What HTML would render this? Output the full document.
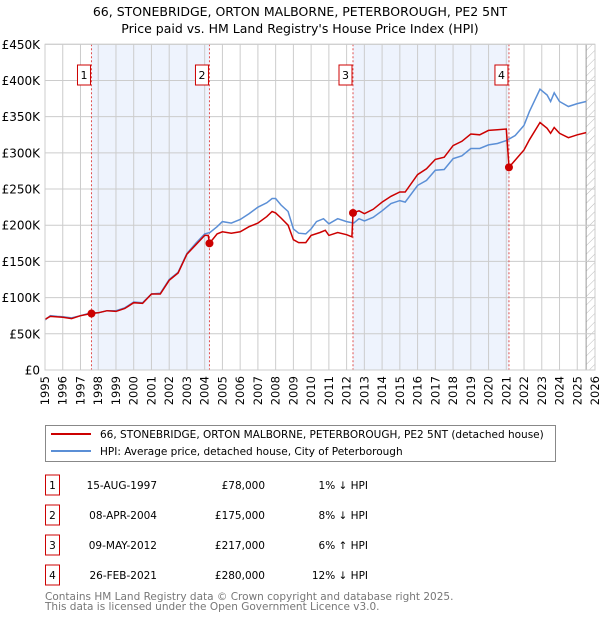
<!DOCTYPE html>
<html><head><meta charset="utf-8"><style>
body{margin:0;background:#fff;font-family:"Liberation Sans","DejaVu Sans",sans-serif}
svg text{font-family:"DejaVu Sans","Liberation Sans",sans-serif}
</style></head><body>
<svg id="c" width="600" height="620" xmlns="http://www.w3.org/2000/svg">
<defs><pattern id="hatch" width="6" height="6" patternUnits="userSpaceOnUse" patternTransform="rotate(45)"><line x1="0" y1="0" x2="0" y2="6" stroke="#bbb" stroke-width="1"/></pattern></defs>
<text x="300" y="16" text-anchor="middle" font-size="12.5">66, STONEBRIDGE, ORTON MALBORNE, PETERBOROUGH, PE2 5NT</text>
<text x="300" y="33" text-anchor="middle" font-size="12.5">Price paid vs. HM Land Registry's House Price Index (HPI)</text>
<g id="plot"></g>
<rect x="45.5" y="425.5" width="510" height="36" fill="#fff" stroke="#888"/>
<line x1="51" y1="434" x2="91" y2="434" stroke="#cc0000" stroke-width="2"/>
<text x="100" y="438" font-size="10.5">66, STONEBRIDGE, ORTON MALBORNE, PETERBOROUGH, PE2 5NT (detached house)</text>
<line x1="51" y1="451" x2="91" y2="451" stroke="#5b8fd6" stroke-width="2"/>
<text x="100" y="455" font-size="10.5">HPI: Average price, detached house, City of Peterborough</text>
<g id="table" font-size="10.5"></g>
<text x="45" y="600" font-size="10.5" fill="#777">Contains HM Land Registry data © Crown copyright and database right 2025.</text>
<text x="45" y="610" font-size="10.5" fill="#777">This data is licensed under the Open Government Licence v3.0.</text>
</svg>
<script>
const hpiYears=[1995.0,1995.3,1995.7,1996.0,1996.5,1997.0,1997.6,1998.0,1998.5,1999.0,1999.5,2000.0,2000.5,2001.0,2001.5,2002.0,2002.5,2003.0,2003.5,2004.0,2004.3,2004.7,2005.0,2005.5,2006.0,2006.5,2007.0,2007.5,2007.8,2008.0,2008.3,2008.7,2009.0,2009.3,2009.7,2010.0,2010.3,2010.7,2011.0,2011.5,2012.0,2012.4,2012.7,2013.0,2013.5,2014.0,2014.5,2015.0,2015.3,2016.0,2016.5,2017.0,2017.5,2018.0,2018.5,2019.0,2019.5,2020.0,2020.5,2021.0,2021.5,2022.0,2022.3,2022.9,2023.3,2023.5,2023.7,2024.0,2024.5,2025.0,2025.5];
const hpiValues=[69,75,74,73.5,72,75,79,79,82,82,86,94,93,105,106,125,135,161,175,188,190,198,205,203,208,216,225,231,237,237,228,219,195,189,188,195,205,209,202,209,205,203,209,206,211,220,230,234,232,255,262,276,277,292,296,306,306,311,313,317,324,338,357,388,380,371,383,371,364,368,371];
const priceYears=[1995.0,1995.3,1996.0,1996.5,1997.0,1997.62,1998.0,1998.5,1999.0,1999.5,2000.0,2000.5,2001.0,2001.5,2002.0,2002.5,2003.0,2003.5,2004.0,2004.2,2004.27,2004.7,2005.0,2005.5,2006.0,2006.5,2007.0,2007.5,2007.8,2008.0,2008.3,2008.7,2009.0,2009.3,2009.7,2010.0,2010.5,2010.8,2011.0,2011.5,2012.0,2012.3,2012.36,2012.7,2013.0,2013.5,2014.0,2014.5,2015.0,2015.3,2016.0,2016.5,2017.0,2017.5,2018.0,2018.5,2019.0,2019.5,2020.0,2020.5,2021.0,2021.15,2021.5,2022.0,2022.3,2022.9,2023.3,2023.5,2023.7,2024.0,2024.5,2025.0,2025.5];
const priceValues=[70,74,73,71,75,78,79,82,81,85,93,92,105,105,124,134,160,173,186,186,175,188,191,189,191,198,203,212,219,217,210,200,180,176,176,186,190,193,186,190,187,184,217,220,216,222,232,240,246,246,270,278,291,294,310,316,326,325,331,332,333,280,290,304,318,342,334,327,335,327,321,325,328];
const saleLabels=["1","2","3","4"];
const saleYears=[1997.62,2004.27,2012.36,2021.15];
const saleValues=[78,175,217,280];
const saleDates=["15-AUG-1997","08-APR-2004","09-MAY-2012","26-FEB-2021"];
const salePrices=["£78,000","£175,000","£217,000","£280,000"];
const saleHpi=["1% ↓ HPI","8% ↓ HPI","6% ↑ HPI","12% ↓ HPI"];
const yTicks=[0,50,100,150,200,250,300,350,400,450];
const yTickLabels=["£0","£50K","£100K","£150K","£200K","£250K","£300K","£350K","£400K","£450K"];
const xTicks=[1995,1996,1997,1998,1999,2000,2001,2002,2003,2004,2005,2006,2007,2008,2009,2010,2011,2012,2013,2014,2015,2016,2017,2018,2019,2020,2021,2022,2023,2024,2025,2026];

const X0=45,X1=595,Y0=370,Y1=44.3;
const x=v=>X0+(v-1995)/(2026-1995)*(X1-X0);
const y=v=>Y0-v/450*(Y0-Y1);
const NS="http://www.w3.org/2000/svg";
const plot=document.getElementById('plot');
function mk(tag,attrs,parent){const e=document.createElementNS(NS,tag);for(const k in attrs)e.setAttribute(k,attrs[k]);(parent||plot).appendChild(e);return e;}

let e=mk('rect',{x:X0,y:Y1,width:X1-X0,height:Y0-Y1,fill:'#fff'});


for(const [a,b] of [[0,1],[2,3]]){
 e=mk('rect',{x:x(saleYears[a]),y:Y1,width:x(saleYears[b])-x(saleYears[a]),height:Y0-Y1,fill:'#eef3fd'});
 
 
}
e=mk('rect',{x:x(2025.5),y:Y1,width:X1-x(2025.5),height:Y0-Y1,fill:'url(#hatch)'});


mk('line',{x1:x(2025.5),y1:Y1,x2:x(2025.5),y2:Y0,stroke:'#999'});
xTicks.forEach(t=>{
 e=mk('line',{x1:x(t),y1:Y1,x2:x(t),y2:Y0,stroke:'#ccc','stroke-width':1});
 
 
 e=mk('text',{x:0,y:0,'font-size':11.5,'text-anchor':'end',transform:`translate(${x(t)+4},${Y0+6}) rotate(-90)`});
 e.textContent=t;
 
 
});
yTicks.forEach((t,i)=>{
 e=mk('line',{x1:X0,y1:y(t),x2:X1,y2:y(t),stroke:'#ccc','stroke-width':1});
 
 
 e=mk('text',{x:40,y:y(t)+4.5,'font-size':12,'text-anchor':'end'});
 e.textContent=yTickLabels[i];
 
 
});
saleYears.forEach((s,i)=>{
 e=mk('line',{x1:x(s),y1:Y1,x2:x(s),y2:Y0,stroke:'#e05050','stroke-width':1,'stroke-dasharray':'2,2'});
 
 
 e=mk('rect',{x:x(s)-14,y:65,width:13,height:20,fill:'#fff',stroke:'#cc0000'});
 
 
 e=mk('text',{x:x(s)-7.5,y:79,'font-size':11,'text-anchor':'middle'});
 e.textContent=saleLabels[i];
 
 
});
e=mk('path',{d:hpiYears.map((t,i)=>(i?'L':'M')+x(t).toFixed(1)+','+y(hpiValues[i]).toFixed(1)).join(''),fill:'none',stroke:'#5b8fd6','stroke-width':1.5});


e=mk('path',{d:priceYears.map((t,i)=>(i?'L':'M')+x(t).toFixed(1)+','+y(priceValues[i]).toFixed(1)).join(''),fill:'none',stroke:'#cc0000','stroke-width':1.5});


saleYears.forEach((s,i)=>{
 e=mk('circle',{cx:x(s),cy:y(saleValues[i]),r:4,fill:'#cc0000'});
 
 
});
mk('rect',{x:X0,y:Y1,width:X1-X0,height:Y0-Y1,fill:'none',stroke:'#ccc'});

const tbl=document.getElementById('table');
const rowY=[485,515,545,575];
saleLabels.forEach((l,i)=>{
 const ry=rowY[i];
 e=mk('rect',{x:45.5,y:ry-10,width:14,height:20,fill:'#fff',stroke:'#cc0000'},tbl);
 
 
 e=mk('text',{x:52.5,y:ry+4},tbl);e.setAttribute('text-anchor','middle');e.textContent=l;
 
 
 e=mk('text',{x:157,y:ry+4,'text-anchor':'end'},tbl);e.textContent=saleDates[i];
 
 
 e=mk('text',{x:265,y:ry+4,'text-anchor':'end'},tbl);e.textContent=salePrices[i];
 
 
 e=mk('text',{x:368,y:ry+4,'text-anchor':'end'},tbl);e.textContent=saleHpi[i];
 
 
});
</script>
</body></html>
